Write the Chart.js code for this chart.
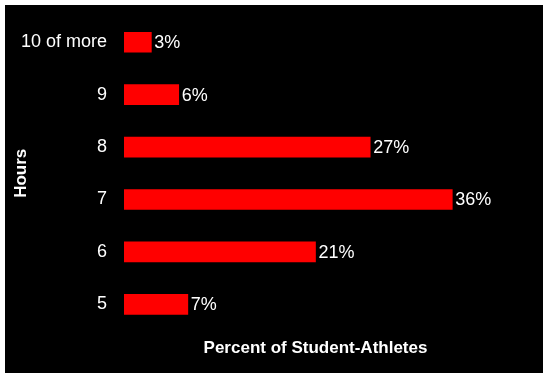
<!DOCTYPE html>
<html>
<head>
<meta charset="utf-8">
<script src="https://cdn.jsdelivr.net/npm/chart.js@4.4.1/dist/chart.umd.min.js"></script>
<style>
  html, body { margin: 0; padding: 0; background: #fff; }
  #wrap { position: absolute; left: 5px; top: 5px; width: 538px; height: 368px; background: #000; }
</style>
</head>
<body>
<div id="wrap"><canvas id="grafico"></canvas></div>
<script>
// Dados do gráfico
const horas = ['10 of more', '9', '8', '7', '6', '5'];
const percentuais = [3, 6, 27, 36, 21, 7];

const FONTE = '"Liberation Sans", Arial, sans-serif';

// Rótulo de valor ao lado de cada barra
const rotulosValor = {
    id: 'rotulosValor',
    afterDatasetsDraw(chart) {
        const ctx = chart.ctx;
        const meta = chart.getDatasetMeta(0);
        ctx.save();
        ctx.fillStyle = '#fff';
        ctx.font = '18px ' + FONTE;
        ctx.textAlign = 'left';
        ctx.textBaseline = 'middle';
        meta.data.forEach((bar, i) => {
            ctx.fillText(percentuais[i] + '%', bar.x + 3, bar.y + 1);
        });
        ctx.restore();
    }
};

new Chart(document.getElementById('grafico'), {
    type: 'bar',
    data: {
        labels: horas,
        datasets: [{
            data: percentuais,
            backgroundColor: '#ff0000',
            borderWidth: 0,
            barThickness: 20
        }]
    },
    options: {
        indexAxis: 'y',
        responsive: true,
        maintainAspectRatio: false,
        animation: false,
        layout: { padding: { top: 11, right: 36, bottom: 0, left: 0 } },
        plugins: {
            legend: { display: false },
            tooltip: { enabled: false }
        },
        scales: {
            x: {
                min: 0,
                max: 42,
                grid: { display: false, drawTicks: false },
                border: { display: false },
                ticks: { display: false },
                title: {
                    display: true,
                    text: 'Percent of Student-Athletes',
                    color: '#fff',
                    font: { family: FONTE, size: 17, weight: 'bold' },
                    padding: { top: 8, bottom: 14 }
                },
                afterFit(scale) { scale.paddingLeft = 0; scale.paddingRight = 0; }
            },
            y: {
                grid: { display: false, drawTicks: false },
                border: { display: false },
                ticks: {
                    color: '#fff',
                    padding: 17,
                    font: { family: FONTE, size: 18 }
                },
                title: {
                    display: true,
                    text: 'Hours',
                    color: '#fff',
                    font: { family: FONTE, size: 17, weight: 'bold' },
                    padding: { top: 6, bottom: 0 }
                },
                afterFit(scale) {
                    scale.width = 119;
                    scale.paddingTop = 0;
                    scale.paddingBottom = 0;
                }
            }
        }
    },
    plugins: [rotulosValor]
});
</script>
</body>
</html>
